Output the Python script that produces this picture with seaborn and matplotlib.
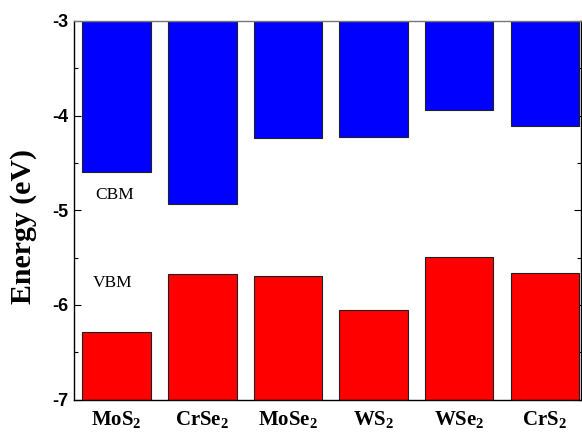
import matplotlib
matplotlib.use("Agg")
import matplotlib.pyplot as plt
from matplotlib.ticker import MultipleLocator
import seaborn as sns
import numpy as np

# Band-edge energies (eV) of the 2D transition-metal dichalcogenides
materials = ["MoS2", "CrSe2", "MoSe2", "WS2", "WSe2", "CrS2"]
tick_labels = [r"$\mathbf{MoS_2}$", r"$\mathbf{CrSe_2}$", r"$\mathbf{MoSe_2}$",
               r"$\mathbf{WS_2}$", r"$\mathbf{WSe_2}$", r"$\mathbf{CrS_2}$"]
cbm = [-4.60, -4.93, -4.24, -4.23, -3.94, -4.11]
vbm = [-6.28, -5.67, -5.69, -6.05, -5.49, -5.66]
y_min, y_max = -7, -3

sns.set_theme(style="ticks")
plt.rcParams["mathtext.fontset"] = "custom"
plt.rcParams["mathtext.rm"] = "Liberation Serif"
plt.rcParams["mathtext.bf"] = "Liberation Serif:bold"
plt.rcParams["mathtext.it"] = "Liberation Serif:italic"
plt.rcParams["text.color"] = "black"
plt.rcParams["axes.labelcolor"] = "black"
plt.rcParams["xtick.color"] = "black"
plt.rcParams["ytick.color"] = "black"

fig = plt.figure(figsize=(5.82, 4.34), dpi=100)
ax = fig.add_axes([0.127, 0.079, 0.871, 0.873])

# conduction-band minima hang down from the top of the energy window
sns.barplot(x=materials, y=np.array(cbm) - y_max, bottom=y_max, color="#0000FF",
            saturation=1, width=0.8, edgecolor="#202020", linewidth=0.8, ax=ax)
# valence-band maxima rise from the bottom of the window
sns.barplot(x=materials, y=np.array(vbm) - y_min, bottom=y_min, color="#FF0000",
            saturation=1, width=0.8, edgecolor="#202020", linewidth=0.8, ax=ax)

ax.set_ylim(y_min, y_max)
ax.set_xlim(-0.5, 5.42)
ax.yaxis.set_minor_locator(MultipleLocator(0.5))
ax.set_yticks(range(y_min, y_max + 1))
ax.set_yticklabels([str(v) for v in range(y_min, y_max + 1)],
                   fontfamily="Liberation Sans", fontweight="bold", fontsize=13)
ax.set_xticks(range(len(materials)))
ax.set_xticklabels(tick_labels, fontsize=15)

ax.tick_params(axis="both", which="both", direction="in", right=True, top=False,
               color="black", labelcolor="black", width=0.8)
ax.tick_params(axis="y", which="major", length=5, pad=4)
ax.tick_params(axis="y", which="minor", length=3)
ax.tick_params(axis="x", which="major", length=5, pad=7)

for side in ["left", "bottom", "right"]:
    ax.spines[side].set_color("black")
    ax.spines[side].set_linewidth(1.0)
ax.spines["top"].set_color("#777777")
ax.spines["top"].set_linewidth(1.0)

ax.set_xlabel("")
ax.set_ylabel("Energy (eV)", fontfamily="Liberation Serif", fontweight="bold",
              fontsize=21.5, va="center", color="black")
ax.yaxis.set_label_coords(-0.1, 0.458)

ax.text(-0.02, -4.84, "CBM", ha="center", va="center", color="black",
        fontfamily="Liberation Serif", fontsize=12.5)
ax.text(-0.05, -5.77, "VBM", ha="center", va="center", color="black",
        fontfamily="Liberation Serif", fontsize=12.5)

fig.savefig("out.png", dpi=100, facecolor="white")
